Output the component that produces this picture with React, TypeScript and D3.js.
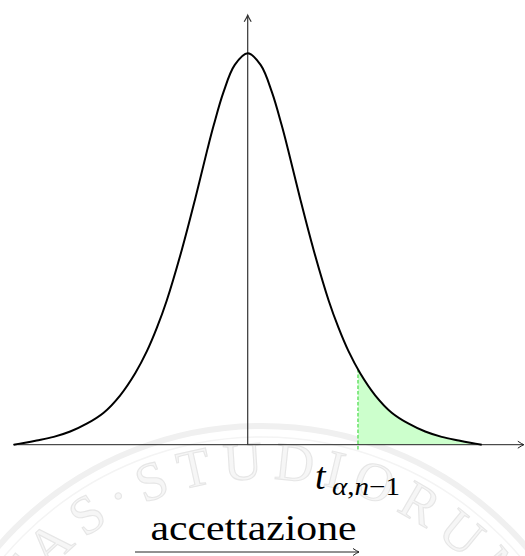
import React from "react";
import * as d3 from "d3";

// Density curve (x in t-units, y density)
const tValues = [
  -4, -3.829, -3.607, -3.316, -3.034, -2.752, -2.462, -2.179, -1.923, -1.723, -1.552, -1.385, -1.128, -0.897, -0.687, -0.579, -0.414, -0.221,
  0,
  0.221, 0.414, 0.579, 0.687, 0.897, 1.128, 1.385, 1.552, 1.723, 1.923, 2.179, 2.462, 2.752, 3.034, 3.316, 3.607, 3.829, 4,
];
const density = [
  0, 0.0017, 0.0041, 0.0076, 0.0128, 0.0204, 0.0311, 0.048, 0.0694, 0.0908, 0.1136, 0.1398, 0.1888, 0.2388, 0.2872, 0.3106, 0.3423, 0.3687,
  0.38,
  0.3687, 0.3423, 0.3106, 0.2872, 0.2388, 0.1888, 0.1398, 0.1136, 0.0908, 0.0694, 0.048, 0.0311, 0.0204, 0.0128, 0.0076, 0.0041, 0.0017, 0,
];
const tAlpha = 1.885;
const xAxisExtent = [-4.01, 4.72];
const yAxisTop = 0.417;
const criticalLabel = "t";
const criticalSub = ["α", ",", "n", "−1"];
const regionLabel = "accettazione";
const watermarkText = "TAS·STUDIORUM";

const W = 525;
const H = 556;

export default function App() {
  const x = d3.scaleLinear().domain([-4, 4]).range([13.7, 481.7]);
  const y = d3.scaleLinear().domain([0, 0.38]).range([444.7, 53.3]);
  const pts: [number, number][] = tValues.map((t, i) => [t, density[i]]);
  const curve = d3.curveCatmullRom.alpha(0.5);

  const line = d3
    .line<[number, number]>()
    .x((d) => x(d[0]))
    .y((d) => y(d[1]))
    .curve(curve);
  const area = d3
    .area<[number, number]>()
    .x((d) => x(d[0]))
    .y0(y(0))
    .y1((d) => y(d[1]))
    .curve(curve);

  const x0 = y(0);
  const xa = x(tAlpha);
  const axL = x(xAxisExtent[0]);
  const axR = x(xAxisExtent[1]);
  const ayT = y(yAxisTop);
  const cx0 = x(0);
  const iA = tValues.findIndex((t) => t > tAlpha);
  const yAtAlpha = d3.interpolateNumber(density[iA - 1], density[iA])(
    (tAlpha - tValues[iA - 1]) / (tValues[iA] - tValues[iA - 1])
  );

  // watermark geometry
  const wcx = 262, wcy = 775, wr = 296;
  const ang = (deg: number) => (deg * Math.PI) / 180;
  const pA = [wcx + wr * Math.sin(ang(-62)), wcy - wr * Math.cos(ang(-62))];
  const pB = [wcx + wr * Math.sin(ang(70)), wcy - wr * Math.cos(ang(70))];
  const arcPath = `M${pA[0]},${pA[1]} A${wr},${wr} 0 0 1 ${pB[0]},${pB[1]}`;

  return (
    <svg
      width={W}
      height={H}
      viewBox={`0 0 ${W} ${H}`}
      style={{ position: "absolute", left: 0, top: 0, background: "#fff" }}
    >
      <defs>
        <clipPath id="tail">
          <rect x={xa} y={0} width={W - xa} height={x0} />
        </clipPath>
        <path id="wmArc" d={arcPath} fill="none" />
      </defs>
      {/* faint watermark */}
      <g>
        <circle cx={wcx} cy={wcy} r={349} fill="none" stroke="#f0f0f0" strokeWidth={6} />
        <circle cx={wcx} cy={wcy} r={338} fill="none" stroke="#f4f4f4" strokeWidth={1.5} />
        <text
          fontFamily="Liberation Serif, serif"
          fontSize={54}
          fill="#f6f6f6"
          stroke="#e6e6e6"
          strokeWidth={1.1}
        >
          <textPath href="#wmArc" startOffset={42} textLength={560} lengthAdjust="spacing">
            {watermarkText}
          </textPath>
        </text>
      </g>

      {/* shaded tail */}
      <path d={area(pts) || ""} fill="#ccffcc" clipPath="url(#tail)" />

      {/* axes */}
      <line x1={axL} y1={x0} x2={axR} y2={x0} stroke="#222" strokeWidth={1} />
      <path
        d={`M${axR - 6},${x0 - 3.5} Q${axR - 2},${x0 - 0.8} ${axR},${x0} Q${axR - 2},${x0 + 0.8} ${axR - 6},${x0 + 3.5}`}
        fill="none"
        stroke="#222"
        strokeWidth={1}
      />
      <line x1={cx0} y1={x0} x2={cx0} y2={ayT} stroke="#333" strokeWidth={1.2} />
      <path
        d={`M${cx0 - 3.5},${ayT + 6.5} Q${cx0 - 0.8},${ayT + 2} ${cx0},${ayT} Q${cx0 + 0.8},${ayT + 2} ${cx0 + 3.5},${ayT + 6.5}`}
        fill="none"
        stroke="#333"
        strokeWidth={1.2}
      />

      {/* dashed critical line */}
      <line
        x1={xa}
        y1={y(yAtAlpha)}
        x2={xa}
        y2={x0 + 5}
        stroke="#55dd55"
        strokeWidth={1.3}
        strokeDasharray="3.5,2"
      />

      {/* density curve */}
      <path d={line(pts) || ""} fill="none" stroke="#000" strokeWidth={2} strokeLinejoin="round" />

      {/* critical value label */}
      <text x={315} y={489} fontFamily="Liberation Serif, serif" fontStyle="italic" fontSize={38} fill="#000">
        {criticalLabel}
      </text>
      <text
        x={332}
        y={494.5}
        fontFamily="Liberation Serif, serif"
        fontSize={25}
        fill="#000"
        textLength={68}
        lengthAdjust="spacingAndGlyphs"
      >
        <tspan fontStyle="italic">{criticalSub[0]}</tspan>
        <tspan>{criticalSub[1]}</tspan>
        <tspan fontStyle="italic">{criticalSub[2]}</tspan>
        <tspan>{criticalSub[3]}</tspan>
      </text>

      {/* acceptance region label with arrow */}
      <text
        x={150.5}
        y={539.5}
        fontFamily="Liberation Serif, serif"
        fontSize={36}
        fill="#000"
        textLength={206}
        lengthAdjust="spacingAndGlyphs"
      >
        {regionLabel}
      </text>
      <line x1={135} y1={552} x2={359} y2={552} stroke="#222" strokeWidth={1} />
      <path
        d={`M${353},${548.5} Q${357},${551.2} ${359},${552} Q${357},${552.8} ${353},${555.5}`}
        fill="none"
        stroke="#222"
        strokeWidth={1}
      />
    </svg>
  );
}
